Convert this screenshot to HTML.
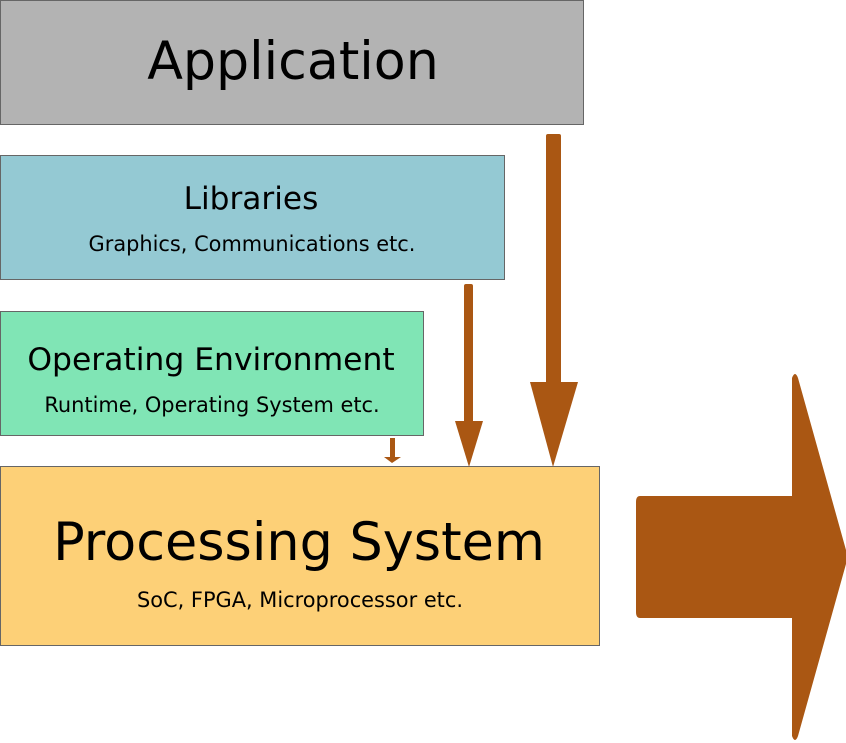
<!DOCTYPE html>
<html><head><style>body{margin:0;background:#fff}</style></head><body>
<svg width="846" height="743" viewBox="0 0 846 743" xmlns="http://www.w3.org/2000/svg" style="display:block;font-family:'DejaVu Sans','Liberation Sans',sans-serif">
<rect x="0.5" y="0.5" width="583" height="124" fill="#b3b3b3" stroke="#666"/>
<rect x="0.5" y="155.5" width="504" height="124" fill="#94c9d3" stroke="#666"/>
<rect x="0.5" y="311.5" width="423" height="124" fill="#80e5b5" stroke="#666"/>
<rect x="0.5" y="466.5" width="599" height="179" fill="#fdd077" stroke="#666"/>
<g fill="#000" text-anchor="middle">
<text x="293" y="79" font-size="52.2">Application</text>
<text x="251" y="209" font-size="31.2">Libraries</text>
<text x="252" y="251" font-size="20.9">Graphics, Communications etc.</text>
<text x="211" y="370" font-size="31.4">Operating Environment</text>
<text x="212" y="412" font-size="20.9">Runtime, Operating System etc.</text>
<text x="299" y="560" font-size="52.4">Processing System</text>
<text x="300" y="607" font-size="20.9">SoC, FPGA, Microprocessor etc.</text>
</g>
<g fill="#aa5713">
<rect x="546" y="134" width="15" height="250" rx="2"/>
<path d="M530 382 L578 382 L553 467 Z"/>
<rect x="464" y="284" width="9" height="140" rx="2"/>
<path d="M455 421 L483 421 L469 467 Z"/>
<rect x="390" y="438" width="5" height="20"/>
<path d="M384 457 L401 457 L392 463 Z"/>
<path d="M640 496 L792 496 L792 378 Q795 370 798 378 L846 550 L846 564 L798 736 Q795 744 792 736 L792 618 L640 618 Q636 618 636 612 L636 502 Q636 496 640 496 Z"/>
</g>
</svg>
</body></html>
